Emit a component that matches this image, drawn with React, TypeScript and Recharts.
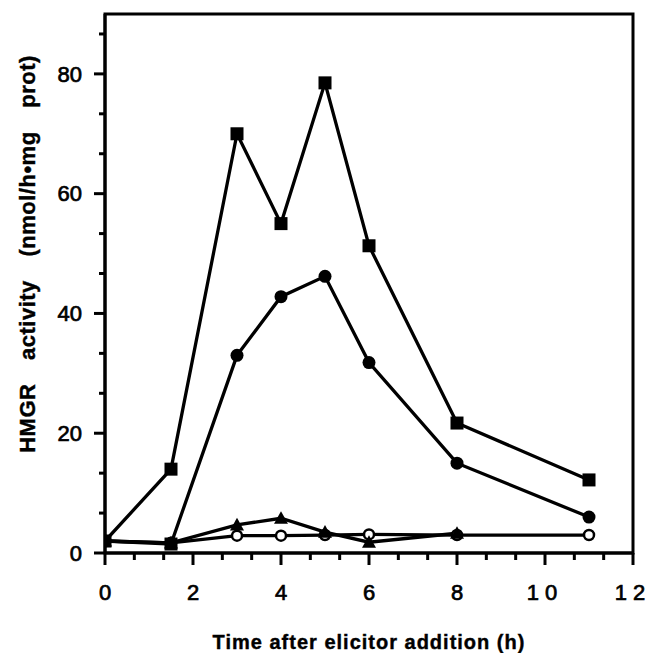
import React from 'react';
import { LineChart, Line, XAxis, YAxis, ReferenceArea } from 'recharts';

const hours = [0, 1.5, 3, 4, 5, 6, 8, 11];
const squareSeries = [2, 14, 70, 55, 78.5, 51.3, 21.7, 12.2];
const filledCircleSeries = [2, 1.5, 33, 42.8, 46.2, 31.8, 15, 6];
const triangleSeries = [2, 1.7, 4.7, 5.8, 3.5, 1.8, 3.3, null];
const openCircleSeries = [2, 1.7, 2.9, 2.9, 3.0, 3.1, 3.0, 3.0];

const xMajorTicks = [0, 2, 4, 6, 8, 10, 12];
const yMajorTicks = [0, 20, 40, 60, 80];
const yMax = 90;

const xTitle = 'Time after elicitor addition (h)';
const yTitle = 'HMGR activity (nmol/h\u2022mg prot)';

const withMinor = (majors: number[], last: number) => {
  const out: number[] = [];
  const step = majors[1] - majors[0];
  for (let i = 0; i < majors.length; i++) {
    const a = majors[i];
    out.push(a);
    const b = i + 1 < majors.length ? majors[i + 1] : a + step;
    for (let k = 1; k < 3; k++) {
      const v = a + ((b - a) * k) / 3;
      if (v <= last + 1e-9) out.push(v);
    }
  }
  return out;
};

const xTicks = withMinor(xMajorTicks, 12);
const yTicks = withMinor(yMajorTicks, yMax);

const data = hours.map((h, i) => ({
  h,
  sq: squareSeries[i],
  fc: filledCircleSeries[i],
  tr: triangleSeries[i],
  oc: openCircleSeries[i],
}));

const FONT = '"Liberation Sans", Arial, Helvetica, sans-serif';

const XTick = (props: any) => {
  const { x, y, payload } = props;
  const v = payload.value;
  const major = xMajorTicks.some((m) => Math.abs(m - v) < 1e-6);
  return (
    <g>
      <line x1={x} x2={x} y1={y} y2={y + (major ? 12 : 7)} stroke="#000" strokeWidth={3} />
      {major && (
        <text
          x={x}
          y={y + 39}
          dy="0.35em"
          textAnchor="middle"
          fontFamily={FONT}
          fontSize={22}
          fill="#000"
          stroke="#000"
          strokeWidth={0.7}
          letterSpacing={v >= 10 ? 6 : 0}
        >
          {Math.round(v)}
        </text>
      )}
    </g>
  );
};

const YTick = (props: any) => {
  const { x, y, payload } = props;
  const v = payload.value;
  const major = yMajorTicks.some((m) => Math.abs(m - v) < 1e-6);
  return (
    <g>
      <line x1={x} x2={x - (major ? 11 : 6)} y1={y} y2={y} stroke="#000" strokeWidth={3} />
      {major && (
        <text
          x={x - 23}
          y={y}
          dy="0.35em"
          textAnchor="end"
          fontFamily={FONT}
          fontSize={22}
          fill="#000"
          stroke="#000"
          strokeWidth={0.7}
        >
          {Math.round(v)}
        </text>
      )}
    </g>
  );
};

const XTitle = () => (
  <text
    x={369}
    y={642}
    dy="0.35em"
    textAnchor="middle"
    fontFamily={FONT}
    fontWeight="bold"
    fontSize={20}
    letterSpacing={1}
    fill="#000"
    stroke="#000"
    strokeWidth={0.4}
  >
    {xTitle}
  </text>
);

const YTitle = () => (
  <text
    x={0}
    y={0}
    transform="translate(27,254) rotate(-90)"
    dy="0.35em"
    textAnchor="middle"
    fontFamily={FONT}
    fontWeight="bold"
    fontSize={22}
    letterSpacing={0.5}
    wordSpacing={17}
    fill="#000"
    stroke="#000"
    strokeWidth={0.4}
  >
    {yTitle}
  </text>
);

const SquareDot = (p: any) => {
  if (p.cx == null || p.cy == null || p.value == null) return <g key={`s-${p.index}`} />;
  return <rect key={`s-${p.index}`} x={p.cx - 6.5} y={p.cy - 6.5} width={13} height={13} fill="#000" />;
};

const FilledCircleDot = (p: any) => {
  if (p.cx == null || p.cy == null || p.value == null) return <g key={`c-${p.index}`} />;
  if (p.index === 1) {
    return <rect key={`c-${p.index}`} x={p.cx - 6.5} y={p.cy - 6.5} width={13} height={13} fill="#000" />;
  }
  return <circle key={`c-${p.index}`} cx={p.cx} cy={p.cy} r={6.5} fill="#000" />;
};

const TriangleDot = (p: any) => {
  if (p.cx == null || p.cy == null || p.value == null) return <g key={`t-${p.index}`} />;
  const s = 7;
  return (
    <polygon
      key={`t-${p.index}`}
      points={`${p.cx},${p.cy - s} ${p.cx - s},${p.cy + s * 0.8} ${p.cx + s},${p.cy + s * 0.8}`}
      fill="#000"
    />
  );
};

const OpenCircleDot = (p: any) => {
  if (p.cx == null || p.cy == null || p.value == null) return <g key={`o-${p.index}`} />;
  return <circle key={`o-${p.index}`} cx={p.cx} cy={p.cy} r={5} fill="#fff" stroke="#000" strokeWidth={2.5} />;
};

export default function App() {
  return (
    <div style={{ position: 'absolute', left: 0, top: 0, width: 650, height: 653, background: '#fff' }}>
      <LineChart width={650} height={653} data={data} margin={{ top: 14, right: 17, left: 0, bottom: 0 }}>
        <XAxis
          dataKey="h"
          type="number"
          domain={[0, 12]}
          ticks={xTicks}
          interval={0}
          tickSize={0}
          tickMargin={0}
          tick={<XTick />}
          tickLine={false}
          axisLine={{ stroke: '#000', strokeWidth: 3 }}
          height={100}
          label={<XTitle />}
          allowDataOverflow
        />
        <YAxis
          type="number"
          domain={[0, yMax]}
          ticks={yTicks}
          interval={0}
          tickSize={0}
          tickMargin={0}
          tick={<YTick />}
          tickLine={false}
          axisLine={{ stroke: '#000', strokeWidth: 3 }}
          width={105}
          label={<YTitle />}
          allowDataOverflow
        />
        <ReferenceArea x1={0} x2={12} y1={0} y2={yMax} fill="none" fillOpacity={0} stroke="#000" strokeWidth={3} />
        <Line type="linear" dataKey="oc" stroke="#000" strokeWidth={3.3} dot={OpenCircleDot} activeDot={false} isAnimationActive={false} />
        <Line type="linear" dataKey="tr" stroke="#000" strokeWidth={3.3} dot={TriangleDot} activeDot={false} isAnimationActive={false} />
        <Line type="linear" dataKey="fc" stroke="#000" strokeWidth={3.3} dot={FilledCircleDot} activeDot={false} isAnimationActive={false} />
        <Line type="linear" dataKey="sq" stroke="#000" strokeWidth={3.3} dot={SquareDot} activeDot={false} isAnimationActive={false} />
      </LineChart>
    </div>
  );
}
